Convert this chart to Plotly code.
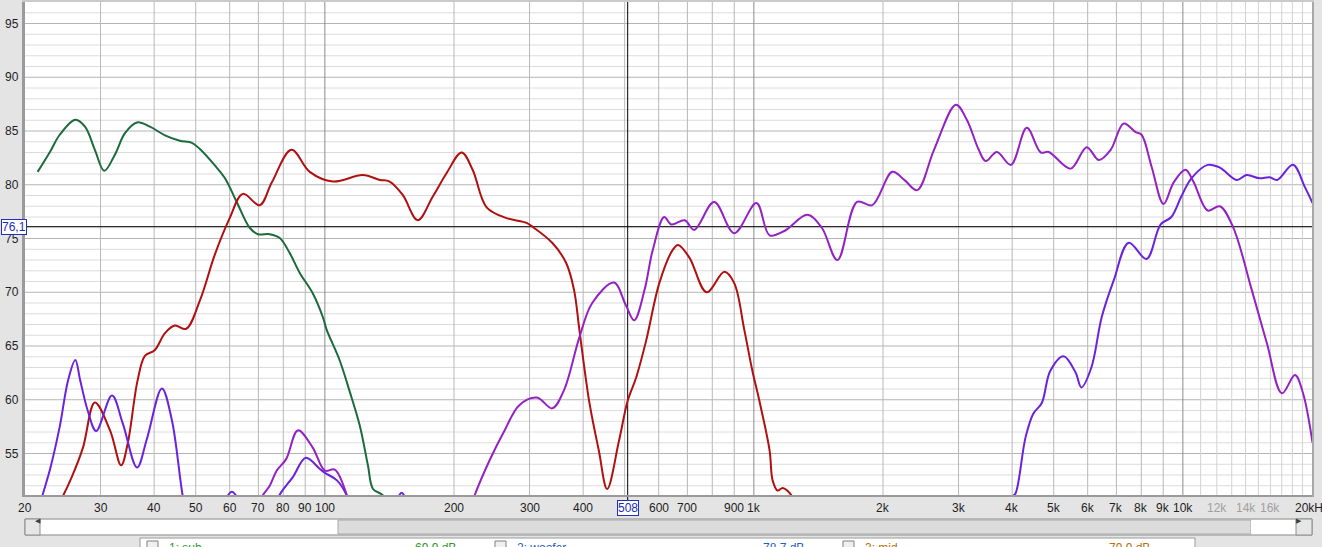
import numpy as np
import plotly.graph_objects as go

# ---------------- data ----------------
sub_freq = [21.4, 22.9, 24.1, 26.2, 27.6, 29.1, 30.6, 32.4, 34.2, 36.5, 39.1, 42.4, 45.9, 49.0,
            51.2, 55.4, 58.5, 62.3, 66.8, 69.8, 74.4, 78.5, 82.8, 87.4, 93.7, 98.9, 101, 108.2,
            114, 120.6, 126, 129.5, 136.6, 145]
sub_db = [81.2, 83.1, 84.65, 86.05, 85.4, 83.25, 81.3, 82.8, 84.8, 85.8, 85.4, 84.6, 84.1, 83.9,
          83.3, 81.8, 80.6, 78.4, 76.0, 75.4, 75.4, 75.05, 73.65, 71.8, 69.9, 67.7, 66.5, 63.7,
          60.9, 57.6, 53.9, 51.7, 51.1, 48.5]

woof_freq = [22, 24.4, 25.7, 27.3, 29.1, 31.6, 33.5, 34.7, 36.6, 38.1, 40.1, 42.4, 44.7, 47.5,
             51.2, 55.4, 60.0, 64.4, 70.5, 75.2, 83.6, 92.2, 104.4, 122.6, 134.4, 141.6, 151.9,
             164.6, 178.5, 192.3, 208.4, 221, 238.3, 265.2, 295, 304.6, 338.8, 365.4, 381, 392,
             413, 435, 455, 485, 508, 532, 561, 602, 646, 666, 708, 776, 854, 900, 950, 992,
             1030, 1088, 1106, 1136, 1167, 1196, 1245, 1300]
woof_db = [48, 50.9, 52.8, 55.55, 59.75, 57.1, 53.9, 55.9, 61.8, 64.1, 64.6, 66.2, 66.9, 66.6,
           69.3, 73.5, 76.9, 79.15, 78.1, 80.2, 83.25, 81.2, 80.3, 80.9, 80.45, 80.3, 79.05,
           76.7, 78.9, 81.1, 83.0, 81.4, 77.9, 76.9, 76.45, 76.1, 74.6, 72.7, 70.2, 66.5,
           59.9, 55.3, 51.7, 56.2, 59.9, 62.1, 65.5, 70.85, 73.9, 74.4, 73.2, 70.0, 71.9, 70.85,
           66.5, 62.7, 59.9, 55.3, 52.5, 51.55, 51.8, 51.55, 50.6, 48]

mid_low_freq = [68, 71.2, 74.4, 77.2, 81.3, 86.5, 93.7, 100, 105.5, 113, 118]
mid_low_db = [48, 50.9, 52.0, 53.4, 54.5, 57.15, 55.55, 53.4, 53.5, 50.9, 48]
mid_freq = [215, 223.4, 242, 262, 284, 312, 339, 361, 392, 420, 472, 503, 526, 556, 581, 618,
            642, 690, 726, 808, 900, 1014, 1088, 1178, 1333, 1440, 1566, 1740, 1888, 2102,
            2243, 2402, 2630, 2958, 3136, 3344, 3471, 3686, 3972, 4328, 4664, 4868, 5476,
            5968, 6372, 6788, 7278, 7762, 8012, 8452, 9016, 9512, 10140, 10580, 11430, 12190,
            13080, 14480, 15700, 17020, 18260, 19060, 20060]
mid_db = [49, 51.1, 54.35, 57.1, 59.5, 60.2, 59.2, 60.9, 65.8, 69.0, 70.9, 68.8, 67.4, 70.2,
          73.9, 77.0, 76.3, 76.7, 75.8, 78.4, 75.5, 78.3, 75.3, 75.7, 77.2, 76.0, 73.0, 78.4,
          78.1, 81.2, 80.45, 79.5, 83.25, 87.45, 86.05, 83.25, 82.2, 83.05, 81.85, 85.3, 83.0,
          83.05, 81.5, 83.5, 82.3, 83.25, 85.7, 84.9, 84.65, 81.7, 78.2, 80.2, 81.4, 80.3,
          77.6, 78.0, 76.1, 70.2, 65.25, 60.6, 62.3, 60.6, 56.0]

tw_low_freq = [21.0, 21.9, 22.9, 24.1, 25.2, 26.2, 26.9, 28.0, 29.3, 31.9, 33.8, 36.5, 38.5,
               41.7, 44.0, 46.7, 48.5]
tw_low_db = [48, 50.9, 53.6, 57.5, 61.8, 63.7, 61.8, 59.0, 57.1, 60.4, 57.8, 53.7, 56.4,
             61.05, 58.1, 50.9, 48]
tw_b1_freq = [57, 59, 60.7, 62.5, 64.5]
tw_b1_db = [49.5, 50.9, 51.45, 50.9, 49.5]
tw_b2_freq = [75, 77.8, 84.2, 90.3, 97.1, 100, 106.7, 113, 117]
tw_b2_db = [48.5, 50.9, 52.8, 54.6, 53.6, 53.2, 52.5, 50.9, 48.5]
tw_b3_freq = [143, 148, 151, 154, 159]
tw_b3_db = [49.5, 50.9, 51.35, 50.9, 49.5]
tw_freq = [3900, 3990, 4075, 4298, 4480, 4690, 4910, 5272, 5620, 5800, 6120, 6470, 6900, 7480,
           8228, 8870, 9400, 9915, 10470, 11430, 12190, 13350, 14080, 15100, 15920, 16600,
           18060, 19240, 20060]
tw_db = [48, 50.9, 51.3, 56.5, 58.7, 59.7, 62.7, 64.05, 62.55, 61.15, 63.0, 67.7, 71.1, 74.6,
         73.1, 76.3, 77.0, 78.9, 80.6, 81.85, 81.6, 80.45, 80.9, 80.6, 80.7, 80.45, 81.85,
         79.8, 78.3]

x_tick_freq = [20, 30, 40, 50, 60, 70, 80, 90, 100, 200, 300, 400, 600, 700, 900, 1000, 2000,
               3000, 4000, 5000, 6000, 7000, 8000, 9000, 10000, 12000, 14000, 16000, 20000]
x_tick_text = ["20", "30", "40", "50", "60", "70", "80", "90", "100", "200", "300", "400", "600",
               "700", "900", "1k", "2k", "3k", "4k", "5k", "6k", "7k", "8k", "9k", "10k", "12k",
               "14k", "16k", "20kHz"]
x_tick_grey = ["12k", "14k", "16k"]
y_tick_vals = [55, 60, 65, 70, 75, 80, 85, 90, 95]

cursor_freq = 508
cursor_db = 76.1
cursor_freq_text = "508"
cursor_db_text = "76,1"

legend_names = ["1: sub", "2: woofer", "3: mid"]
legend_values = ["69.9 dB", "78.7 dB", "79.9 dB"]
legend_colors = ["#2a9a2a", "#1f5fc0", "#b8700c"]

# ---------------- geometry ----------------
W, H = 1322, 547
ML, MR, MT, MB = 25, 10, 2, 52
PW, PH = W - ML - MR, H - MT - MB
FMIN, FMAX = 20, 20000
YMIN, YMAX = 51.14, 97.0

def fx(f):
    return (np.log10(f) - np.log10(FMIN)) / (np.log10(FMAX) - np.log10(FMIN))

def px(x):
    return (x - ML) / PW

def py(y):
    return (H - MB - y) / PH

def join(*segs):
    xs, ys = [], []
    for f, v in segs:
        if xs:
            xs.append(None)
            ys.append(None)
        xs += list(f)
        ys += list(v)
    return xs, ys

fig = go.Figure()

series = [
    (join((sub_freq, sub_db)), "#1b6b3c"),
    (join((woof_freq, woof_db)), "#b01010"),
    (join((tw_low_freq, tw_low_db), (tw_b1_freq, tw_b1_db), (tw_b2_freq, tw_b2_db),
          (tw_b3_freq, tw_b3_db), (tw_freq, tw_db)), "#6a22dd"),
    (join((mid_low_freq, mid_low_db), (mid_freq, mid_db)), "#9322c2"),
]
for (xs, ys), col in series:
    fig.add_trace(go.Scatter(x=xs, y=ys, mode="lines", connectgaps=False, hoverinfo="skip",
                             line=dict(color=col, width=2, shape="spline", smoothing=1.0)))

shapes = []
# horizontal grid
for d in range(52, 97):
    shapes.append(dict(type="line", xref="paper", yref="y", x0=0, x1=1, y0=d, y1=d,
                       line=dict(color="#b4b4b4" if d % 5 == 0 else "#dcdcdc", width=1),
                       layer="below"))
# vertical grid
for dec in [10, 100, 1000]:
    for m in range(1, 10):
        f = dec * m
        if f <= 20 or f >= 20000:
            continue
        col = "#8c8c8c" if m == 1 else "#b8b8b8"
        shapes.append(dict(type="line", xref="paper", yref="paper", x0=fx(f), x1=fx(f),
                           y0=0, y1=1, line=dict(color=col, width=1), layer="below"))
shapes.append(dict(type="line", xref="paper", yref="paper", x0=fx(10000), x1=fx(10000),
                   y0=0, y1=1, line=dict(color="#8c8c8c", width=1), layer="below"))
for k in range(11, 20):
    f = k * 1000
    shapes.append(dict(type="line", xref="paper", yref="paper", x0=fx(f), x1=fx(f),
                       y0=0, y1=1, line=dict(color="#d2d2d2", width=1), layer="below"))
# cursor
shapes.append(dict(type="line", xref="paper", yref="y", x0=0, x1=1, y0=cursor_db, y1=cursor_db,
                   line=dict(color="#000000", width=1), layer="below"))
shapes.append(dict(type="line", xref="paper", yref="paper", x0=fx(cursor_freq), x1=fx(cursor_freq),
                   y0=py(501), y1=1, line=dict(color="#000000", width=1), layer="below"))
# plot frame
shapes.append(dict(type="line", xref="paper", yref="paper", x0=px(23.5), x1=px(23.5), y0=py(497), y1=1,
                   line=dict(color="#9a9a9a", width=3)))
shapes.append(dict(type="line", xref="paper", yref="paper", x0=px(22), x1=px(1314), y0=py(496), y1=py(496),
                   line=dict(color="#9a9a9a", width=2)))
shapes.append(dict(type="line", xref="paper", yref="paper", x0=px(1313), x1=px(1313), y0=py(497), y1=1,
                   line=dict(color="#a8a8a8", width=2)))
shapes.append(dict(type="line", xref="paper", yref="paper", x0=px(22), x1=px(1314), y0=py(1), y1=py(1),
                   line=dict(color="#b0b0b0", width=1)))

# scrollbar
def rect(x0, x1, y0, y1, fill, line="#8c8c8c", lw=1):
    return dict(type="rect", xref="paper", yref="paper", x0=px(x0), x1=px(x1), y0=py(y1), y1=py(y0),
                fillcolor=fill, line=dict(color=line, width=lw))

shapes.append(rect(25, 1312, 519, 535, "#f6f6f6"))
shapes.append(rect(40, 338, 520, 534, "#ffffff", line="#ffffff", lw=0))
shapes.append(rect(338, 1251, 520, 534, "#dcdcdc", line="#a8a8a8"))
shapes.append(rect(1251, 1296, 520, 534, "#ffffff", line="#ffffff", lw=0))
shapes.append(rect(25, 40, 519, 535, "#e6e6e6"))
shapes.append(rect(1296, 1312, 519, 535, "#e6e6e6"))
# legend panel
shapes.append(rect(140, 1195, 538, 560, "#ffffff", line="#9a9a9a"))
for cx in [147, 495, 843]:
    shapes.append(rect(cx, cx + 11, 541, 555, "#f0f0f0", line="#808080"))

ann = []
F = "Liberation Sans, Arial, sans-serif"
for v in y_tick_vals:
    ann.append(dict(xref="paper", yref="y", x=px(21), y=v, text=str(v), showarrow=False,
                    xanchor="right", yanchor="middle", font=dict(family=F, size=12, color="#1e1e1e")))
for f, t in zip(x_tick_freq, x_tick_text):
    col = "#a0a0a0" if t in x_tick_grey else "#1e1e1e"
    ann.append(dict(xref="paper", yref="paper", x=fx(f), y=py(508), text=t, showarrow=False,
                    xanchor="center", yanchor="middle", font=dict(family=F, size=12, color=col)))
# cursor labels
ann.append(dict(xref="paper", yref="paper", x=px(0.5), y=py(227), text=cursor_db_text, showarrow=False,
                xanchor="left", yanchor="middle", bgcolor="#ffffff", bordercolor="#2030c0",
                borderwidth=1, borderpad=0, font=dict(family=F, size=12, color="#1a2ac0")))
ann.append(dict(xref="paper", yref="paper", x=fx(cursor_freq), y=py(507.5), text=cursor_freq_text,
                showarrow=False, xanchor="center", yanchor="middle", bgcolor="#ffffff",
                bordercolor="#2030c0", borderwidth=1, borderpad=0,
                font=dict(family=F, size=12, color="#1a2ac0")))
# scrollbar arrows
ann.append(dict(xref="paper", yref="paper", x=px(32.5), y=py(527), text="◀", showarrow=False,
                font=dict(family="DejaVu Sans", size=7, color="#404040")))
ann.append(dict(xref="paper", yref="paper", x=px(1304), y=py(527), text="▶", showarrow=False,
                font=dict(family="DejaVu Sans", size=7, color="#404040")))
# legend panel texts (cut by window edge, as in the reference)
for i, (nm, val, col) in enumerate(zip(legend_names, legend_values, legend_colors)):
    x0 = [167, 515, 863][i]
    x1 = [458, 806, 1152][i]
    ann.append(dict(xref="paper", yref="paper", x=px(x0), y=py(539), text=nm, showarrow=False,
                    xanchor="left", yanchor="top", font=dict(family=F, size=12, color=col)))
    ann.append(dict(xref="paper", yref="paper", x=px(x1), y=py(539), text=val, showarrow=False,
                    xanchor="right", yanchor="top", font=dict(family=F, size=12, color=col)))

fig.update_layout(
    width=W, height=H,
    margin=dict(l=ML, r=MR, t=MT, b=MB, pad=0),
    paper_bgcolor="#e4e4e4", plot_bgcolor="#ffffff",
    showlegend=False,
    xaxis=dict(type="log", range=[np.log10(FMIN), np.log10(FMAX)], showgrid=False, zeroline=False,
               showticklabels=False, ticks="", showline=False, fixedrange=True),
    yaxis=dict(range=[YMIN, YMAX], showgrid=False, zeroline=False, showticklabels=False, ticks="",
               showline=False, fixedrange=True),
    shapes=shapes, annotations=ann,
    font=dict(family=F),
)
fig.write_html("out.html", config={"displayModeBar": False},
               post_script="document.body.style.margin='0px';document.body.style.overflow='hidden';")
